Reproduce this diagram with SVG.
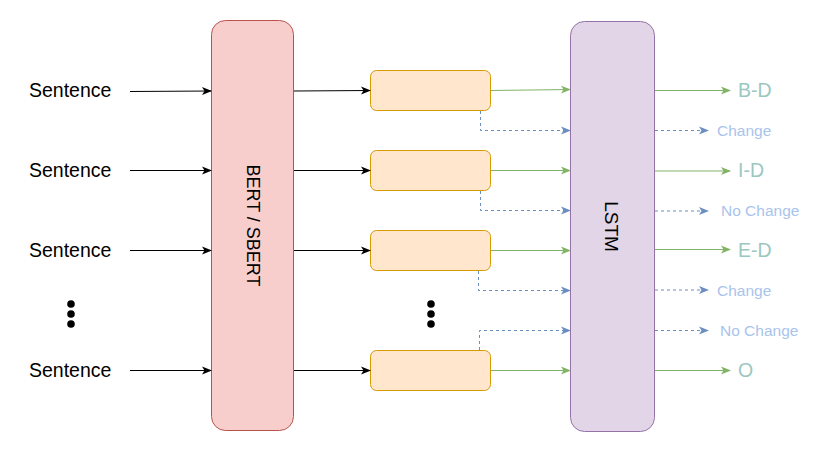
<svg xmlns="http://www.w3.org/2000/svg" width="832" height="453" viewBox="0 0 832 453">
  <defs>
    <marker id="arrBlack" viewBox="0 0 10 10" refX="9" refY="5" markerWidth="10" markerHeight="10" markerUnits="userSpaceOnUse" orient="auto">
      <path d="M0,1 L10,5 L0,9 L2.5,5 Z" fill="#000"/>
    </marker>
    <marker id="arrGreen" viewBox="0 0 10 10" refX="9" refY="5" markerWidth="10" markerHeight="10" markerUnits="userSpaceOnUse" orient="auto">
      <path d="M0,1 L10,5 L0,9 L2.5,5 Z" fill="#82b366"/>
    </marker>
    <marker id="arrBlue" viewBox="0 0 10 10" refX="9" refY="5" markerWidth="10" markerHeight="10" markerUnits="userSpaceOnUse" orient="auto">
      <path d="M0,1 L10,5 L0,9 L2.5,5 Z" fill="#6c8ebf"/>
    </marker>
  </defs>
  <style>
    text { font-family: "Liberation Sans", Arial, sans-serif; }
    .sent { font-size: 19.5px; fill: #000; }
    .bert { fill: #f8cecc; stroke: #b85450; stroke-width: 1; }
    .emb { fill: #ffe6cc; stroke: #d79b00; stroke-width: 1; }
    .lstm { fill: #e1d5e7; stroke: #9673a6; stroke-width: 1; }
    .big { font-size: 18px; fill: #000; }
    .tag { font-size: 19.5px; fill: #9ac7bf; }
    .chg { font-size: 15.5px; fill: #a9c4eb; }
    .black { stroke: #000; stroke-width: 1; fill: none; marker-end: url(#arrBlack); }
    .green { stroke: #82b366; stroke-width: 1; fill: none; marker-end: url(#arrGreen); }
    .blue { stroke: #6c8ebf; stroke-width: 1; fill: none; stroke-dasharray: 3 3; marker-end: url(#arrBlue); }
    .dot { fill: #000; }
  </style>

  <!-- input sentences -->
  <g id="inputs">
    <text class="sent" x="29" y="97">Sentence</text>
    <text class="sent" x="29" y="177">Sentence</text>
    <text class="sent" x="29" y="257">Sentence</text>
    <text class="sent" x="29" y="377">Sentence</text>
    <circle class="dot" cx="71" cy="304" r="3.8"/>
    <circle class="dot" cx="71" cy="314" r="3.8"/>
    <circle class="dot" cx="71" cy="324" r="3.8"/>
  </g>

  <!-- encoder -->
  <g id="bert">
    <rect class="bert" x="211.5" y="20.5" width="82" height="410" rx="14"/>
    <text class="big" transform="translate(252.5,225.5) rotate(90)" text-anchor="middle" dominant-baseline="central">BERT / SBERT</text>
  </g>

  <!-- sentence embeddings -->
  <g id="emb1"><rect class="emb" x="370.5" y="70.5" width="120" height="40" rx="6"/></g>
  <g id="emb2"><rect class="emb" x="370.5" y="150.5" width="120" height="40" rx="6"/></g>
  <g id="emb3"><rect class="emb" x="370.5" y="230.5" width="120" height="40" rx="6"/></g>
  <g id="emb4"><rect class="emb" x="370.5" y="350.5" width="120" height="40" rx="6"/></g>
  <g id="dots2">
    <circle class="dot" cx="431" cy="304" r="3.8"/>
    <circle class="dot" cx="431" cy="314" r="3.8"/>
    <circle class="dot" cx="431" cy="324" r="3.8"/>
  </g>

  <!-- sequence model -->
  <g id="lstm">
    <rect class="lstm" x="570.5" y="21.5" width="84" height="410" rx="14"/>
    <text class="big" style="font-size:19px" transform="translate(611,226.5) rotate(90)" text-anchor="middle" dominant-baseline="central">LSTM</text>
  </g>

  <!-- output labels -->
  <g id="outputs">
    <text class="tag" x="738" y="97">B-D</text>
    <text class="chg" x="717" y="136">Change</text>
    <text class="tag" x="738" y="177">I-D</text>
    <text class="chg" x="721" y="216">No Change</text>
    <text class="tag" x="738" y="257">E-D</text>
    <text class="chg" x="717" y="296">Change</text>
    <text class="chg" x="720" y="336">No Change</text>
    <text class="tag" x="738" y="377">O</text>
  </g>

  <g id="connectors">
    <!-- sentences into encoder -->
    <path class="black" d="M130,91.5 L211,91"/>
    <path class="black" d="M130,170.5 L211,170.5"/>
    <path class="black" d="M130,250.5 L211,250.5"/>
    <path class="black" d="M130,370.5 L211,370.5"/>
    <!-- encoder to embeddings -->
    <path class="black" d="M294,91 L370,90.5"/>
    <path class="black" d="M294,170.5 L370,170.5"/>
    <path class="black" d="M294,250.5 L370,250.5"/>
    <path class="black" d="M294,370.5 L370,370.5"/>
    <!-- embeddings into LSTM -->
    <path class="green" d="M491,90.5 L570,89.5"/>
    <path class="green" d="M491,170.5 L570,170.5"/>
    <path class="green" d="M491,250.5 L570,250.5"/>
    <path class="green" d="M491,370.5 L570,370.5"/>
    <!-- boundary links between consecutive embeddings -->
    <path class="blue" d="M480.5,111 L480.5,130.5 L570,130.5"/>
    <path class="blue" d="M480.5,191 L480.5,210.5 L570,210.5"/>
    <path class="blue" d="M478.5,271 L478.5,290.5 L570,290.5"/>
    <path class="blue" d="M479.5,350 L479.5,330.5 L570,330.5"/>
    <!-- LSTM outputs -->
    <path class="green" d="M655,90.5 L730,90.5"/>
    <path class="blue" d="M655,130.5 L708,130.5"/>
    <path class="green" d="M655,171 L730,171"/>
    <path class="blue" d="M655,211 L708,211"/>
    <path class="green" d="M655,249.5 L730,249.5"/>
    <path class="blue" d="M655,290 L708,290"/>
    <path class="blue" d="M655,330.5 L708,330.5"/>
    <path class="green" d="M655,370.5 L730,370.5"/>
  </g>
</svg>
